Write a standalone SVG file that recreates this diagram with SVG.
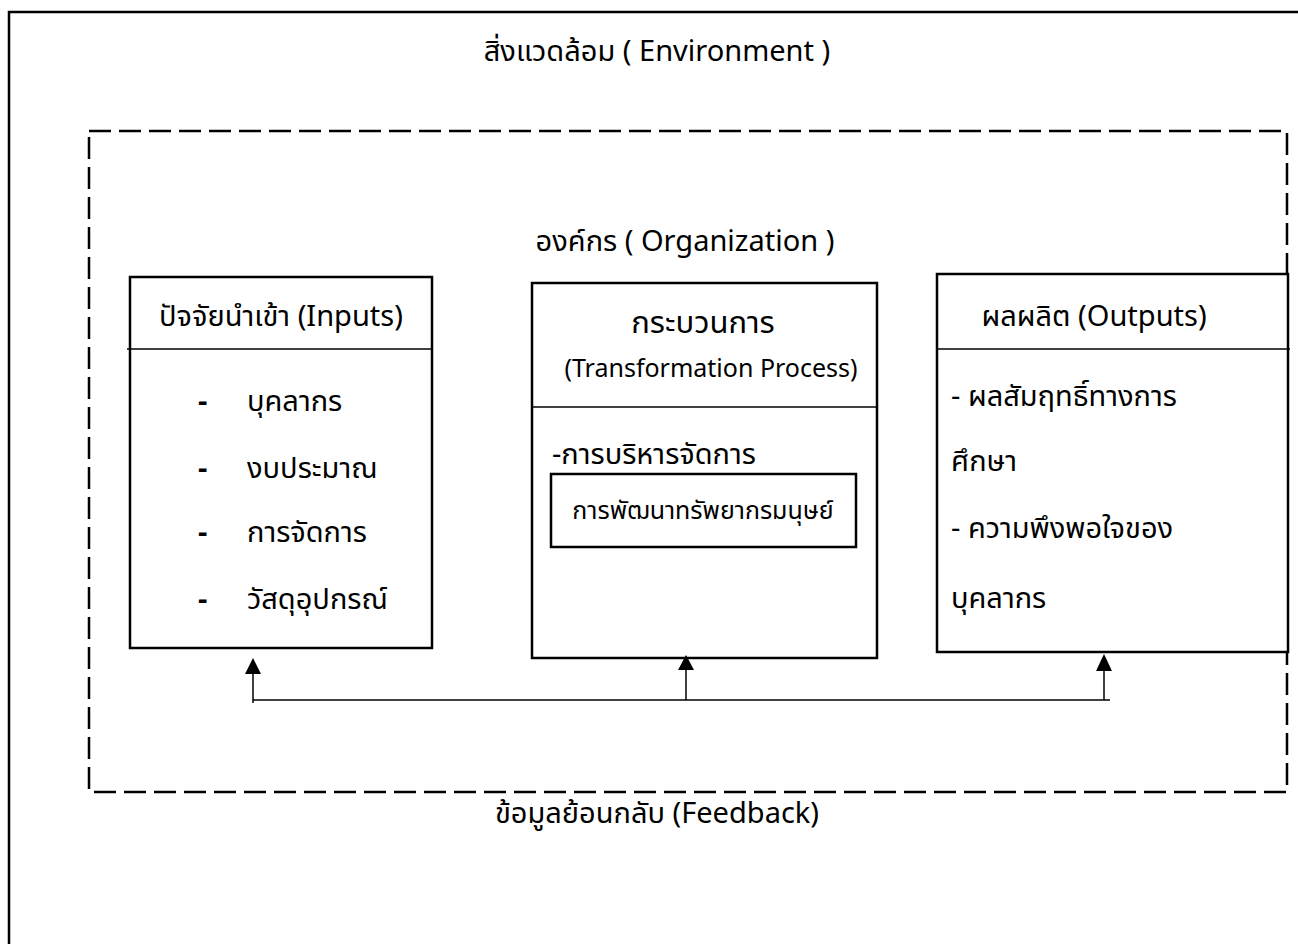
<svg xmlns="http://www.w3.org/2000/svg" width="1298" height="944" viewBox="0 0 1298 944">
  <style>
    .t { font-family: "Noto Sans Thai", "Leelawadee UI", "Tahoma", "Noto Sans", "DejaVu Sans", sans-serif; font-size: 29px; fill: #000; }
    .c { text-anchor: middle; }
    .dash { font-weight: bold; }
    .box { fill: #fff; stroke: #000; stroke-width: 2.5; }
    .sep { stroke: #000; stroke-width: 1.5; }
    .conn { fill: none; stroke: #000; stroke-width: 1.5; }
    .head { fill: #000; }
  </style>
  <rect width="1298" height="944" fill="#fff"/>

  <!-- environment frame -->
  <g id="environment">
    <path d="M9,944 V12 H1298" fill="none" stroke="#000" stroke-width="2.5"/>
    <text class="t c" x="657" y="61">สิ่งแวดล้อม  ( Environment )</text>
    <text class="t c" x="657" y="823">ข้อมูลย้อนกลับ (Feedback)</text>
  </g>

  <!-- organization boundary -->
  <g id="organization">
    <rect x="89" y="131" width="1198" height="661" fill="none" stroke="#000" stroke-width="2.5" stroke-dasharray="22,8"/>
    <text class="t c" x="685" y="251">องค์กร ( Organization )</text>
  </g>

  <g id="inputs">
    <rect class="box" x="130" y="277" width="302" height="371"/>
    <line class="sep" x1="127" y1="349" x2="431" y2="349"/>
    <text class="t c" x="281" y="326">ปัจจัยนำเข้า (Inputs)</text>
    <text class="t dash" x="198" y="411">-</text>
    <text class="t" x="247" y="411">บุคลากร</text>
    <text class="t dash" x="198" y="478">-</text>
    <text class="t" x="247" y="478">งบประมาณ</text>
    <text class="t dash" x="198" y="542">-</text>
    <text class="t" x="247" y="542">การจัดการ</text>
    <text class="t dash" x="198" y="609">-</text>
    <text class="t" x="247" y="609">วัสดุอุปกรณ์</text>
  </g>

  <g id="process">
    <rect class="box" x="532" y="283" width="345" height="375"/>
    <line class="sep" x1="532" y1="407" x2="877" y2="407"/>
    <text class="t c" x="703" y="333" style="font-size:31px">กระบวนการ</text>
    <text class="t c" x="711" y="377" style="font-size:25px">(Transformation Process)</text>
    <text class="t" x="552" y="464">-การบริหารจัดการ</text>
    <g id="hrd">
      <rect class="box" x="551" y="474" width="305" height="73"/>
      <text class="t c" x="703" y="519" style="font-size:25px">การพัฒนาทรัพยากรมนุษย์</text>
    </g>
  </g>

  <g id="outputs">
    <rect class="box" x="937" y="274" width="351" height="378"/>
    <line class="sep" x1="937" y1="349" x2="1290" y2="349"/>
    <text class="t c" x="1094" y="326">ผลผลิต (Outputs)</text>
    <text class="t" x="951" y="406">- ผลสัมฤทธิ์ทางการ</text>
    <text class="t" x="951" y="471">ศึกษา</text>
    <text class="t" x="951" y="538">- ความพึงพอใจของ</text>
    <text class="t" x="951" y="608">บุคลากร</text>
  </g>

  <!-- feedback connectors -->
  <g id="connectors">
    <line class="conn" x1="253" y1="700" x2="1110" y2="700"/>
    <line class="conn" x1="253" y1="703" x2="253" y2="672"/>
    <line class="conn" x1="686" y1="700" x2="686" y2="668"/>
    <line class="conn" x1="1104" y1="700" x2="1104" y2="669"/>
    <path class="head" d="M253,658 L261,674 L245,674 Z"/>
    <path class="head" d="M686,655 L694,670 L678,670 Z"/>
    <path class="head" d="M1104,654 L1112,671 L1096,671 Z"/>
  </g>
</svg>
